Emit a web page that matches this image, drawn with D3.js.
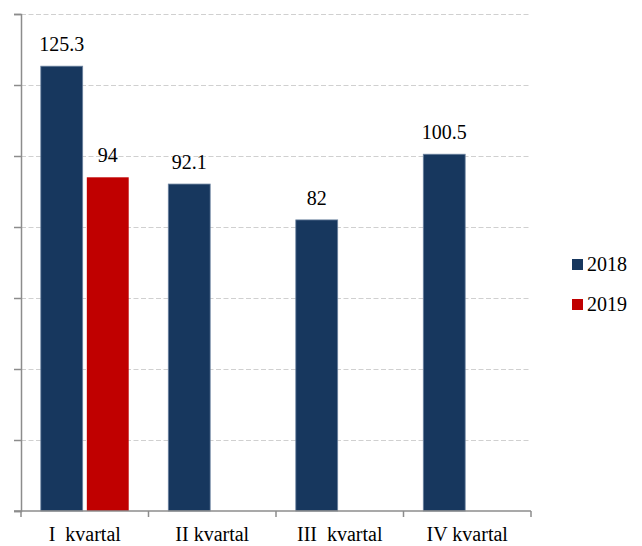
<!DOCTYPE html>
<html>
<head>
<meta charset="utf-8">
<script src="https://cdn.jsdelivr.net/npm/d3@7"></script>
<style>
  body { margin: 0; background: #fff; }
  svg { display: block; }
  text { font-family: "Liberation Serif", "Times New Roman", serif; fill: #000; }
</style>
</head>
<body>
<svg id="chart"></svg>
<script>
const categories = ['I  kvartal', 'II kvartal', 'III  kvartal', 'IV kvartal']
const seriesNames = ['2018', '2019']
const values2018 = [125.3, 92.1, 82, 100.5]
const values2019 = [94, null, null, null]
const yTicks = [0, 20, 40, 60, 80, 100, 120, 140]
const colors = ['#17375e', '#c00000']

const width = 642, height = 546
const margin = { left: 21, right: 111, top: 14, bottom: 35 }

const svg = d3.select('#chart')
  .attr('width', width)
  .attr('height', height)

const x = d3.scaleBand()
  .domain(categories)
  .range([margin.left, width - margin.right])
  .paddingInner(0)
  .paddingOuter(0)

const x1 = d3.scaleBand()
  .domain(seriesNames)
  .range([0, x.bandwidth()])
  .paddingInner(0.09)
  .paddingOuter(0.43)

const y = d3.scaleLinear()
  .domain([0, 140])
  .range([height - margin.bottom, margin.top])

// gridlines
svg.append('g')
  .selectAll('line')
  .data(yTicks.slice(1))
  .join('line')
  .attr('x1', margin.left)
  .attr('x2', width - margin.right)
  .attr('y1', d => y(d) + 0.5)
  .attr('y2', d => y(d) + 0.5)
  .attr('stroke', '#d0d0d0')
  .attr('stroke-width', 1)
  .attr('stroke-dasharray', '5,2.5')

const rows = categories.map((c, i) => ({ cat: c, vals: [values2018[i], values2019[i]] }))

const groups = svg.append('g')
  .selectAll('g')
  .data(rows)
  .join('g')
  .attr('transform', d => `translate(${x(d.cat)},0)`)

groups.selectAll('rect')
  .data(d => d.vals.map((v, j) => ({ s: seriesNames[j], v, j })).filter(e => e.v != null))
  .join('rect')
  .attr('x', d => x1(d.s))
  .attr('width', x1.bandwidth())
  .attr('y', d => y(d.v))
  .attr('height', d => y(0) - y(d.v))
  .attr('fill', d => colors[d.j])
  .attr('stroke', d => d.j === 0 ? '#6d83a0' : 'none')
  .attr('stroke-width', 0.8)

groups.selectAll('text')
  .data(d => d.vals.map((v, j) => ({ s: seriesNames[j], v, j })).filter(e => e.v != null))
  .join('text')
  .attr('x', d => x1(d.s) + x1.bandwidth() / 2)
  .attr('y', d => y(d.v) - 15)
  .attr('text-anchor', 'middle')
  .attr('font-size', 20)
  .text(d => d.v)

// y axis
const yAxis = svg.append('g')
  .attr('transform', `translate(${margin.left},0)`)
  .call(d3.axisLeft(y).tickValues(yTicks).tickSize(7).tickFormat(''))
yAxis.select('.domain').attr('stroke', '#8c8c8c').attr('stroke-width', 1.5)
yAxis.selectAll('.tick line').attr('stroke', '#8c8c8c').attr('stroke-width', 1.5)

// x axis
const boundaries = categories.map(c => x(c)).concat([x.range()[1]])
const xAxisG = svg.append('g')
xAxisG.append('line')
  .attr('x1', margin.left - 7)
  .attr('x2', width - margin.right)
  .attr('y1', y(0))
  .attr('y2', y(0))
  .attr('stroke', '#8c8c8c')
  .attr('stroke-width', 1.5)
xAxisG.selectAll('line.tk')
  .data(boundaries)
  .join('line')
  .attr('class', 'tk')
  .attr('x1', d => d)
  .attr('x2', d => d)
  .attr('y1', y(0))
  .attr('y2', y(0) + 6)
  .attr('stroke', '#8c8c8c')
  .attr('stroke-width', 1.5)
xAxisG.selectAll('text')
  .data(categories)
  .join('text')
  .attr('x', d => x(d) + x.bandwidth() / 2)
  .attr('y', y(0) + 30)
  .attr('text-anchor', 'middle')
  .attr('font-size', 20)
  .style('white-space', 'pre')
  .text(d => d)

// legend
const legend = svg.append('g')
  .selectAll('g')
  .data(seriesNames)
  .join('g')
  .attr('transform', (d, i) => `translate(572,${259 + i * 40})`)
legend.append('rect')
  .attr('width', 11)
  .attr('height', 11)
  .attr('fill', (d, i) => colors[i])
legend.append('text')
  .attr('x', 15)
  .attr('y', 12)
  .attr('font-size', 20)
  .text(d => d)
</script>
</body>
</html>
